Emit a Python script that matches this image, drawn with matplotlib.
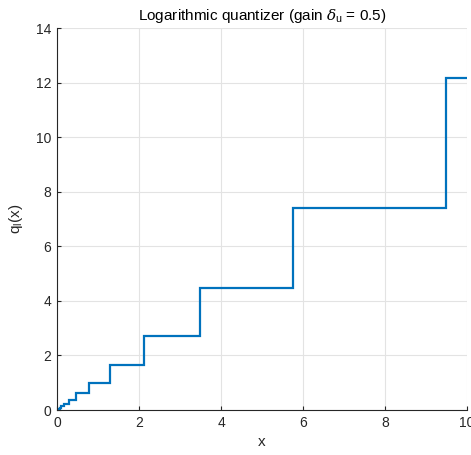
import matplotlib
matplotlib.use("Agg")
import matplotlib.pyplot as plt

# Quantizer step edges (x) and output levels on each interval
edges = [0.0, 0.023, 0.039, 0.064, 0.105, 0.174, 0.287, 0.472, 0.779, 1.284,
         2.117, 3.490, 5.755, 9.488, 10.0]
levels = [0.0, 0.030, 0.050, 0.082, 0.135, 0.223, 0.368, 0.607, 1.0, 1.649,
          2.718, 4.482, 7.389, 12.182]

xticks = [0, 2, 4, 6, 8, 10]
yticks = [0, 2, 4, 6, 8, 10, 12, 14]

plt.rcParams['font.family'] = ['Liberation Sans', 'DejaVu Sans']
plt.rcParams['mathtext.fontset'] = 'custom'
plt.rcParams['mathtext.rm'] = 'Liberation Sans'
plt.rcParams['mathtext.it'] = 'DejaVu Serif:italic'

fig = plt.figure(figsize=(4.71, 4.55), dpi=100)
ax = fig.add_axes([57/471, 1 - 410/455, 410/471, 382/455])

ax.stairs(levels, edges, baseline=None, color='#0072BD', linewidth=1.6)

ax.set_xlim(0, 10)
ax.set_ylim(0, 14)
ax.set_xticks(xticks)
ax.set_yticks(yticks)
ax.grid(True, color='#e3e3e3', linewidth=0.8)
ax.set_axisbelow(True)
for s in ['top', 'right']:
    ax.spines[s].set_visible(False)
for s in ['left', 'bottom']:
    ax.spines[s].set_color('#262626')
    ax.spines[s].set_linewidth(0.8)
ax.tick_params(direction='in', length=3, labelsize=10, colors='#262626', pad=4)

ax.set_title(r'Logarithmic quantizer (gain $\delta_\mathrm{u}$ = 0.5)', fontsize=11, color='black', pad=6)
ax.set_xlabel('x', fontsize=11, color='#262626', labelpad=4)
ax.set_ylabel(r'q$_\mathrm{l}$(x)', fontsize=11, color='#262626', labelpad=8)

fig.savefig('out.png', dpi=100)
